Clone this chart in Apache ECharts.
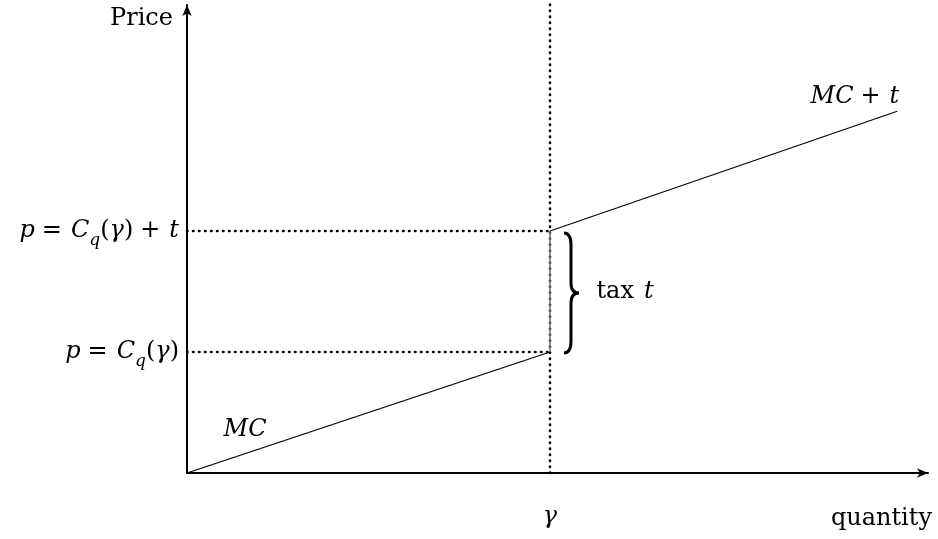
<!DOCTYPE html>
<html>
<head>
<meta charset="utf-8">
<script src="https://cdn.jsdelivr.net/npm/echarts@6/dist/echarts.min.js"></script>
<style>html,body{margin:0;padding:0;background:#fff}#c{width:938px;height:539px}</style>
</head>
<body>
<div id="c"></div>
<script>
// ---- data ----
const gamma = 3;                       // quantity gamma
const priceLow = 1;                    // p = C_q(gamma)
const priceHigh = 2;                   // p = C_q(gamma) + t
const mcLine = [[0, 0], [3, 1]];       // MC
const mcTaxLine = [[3, 2], [5.87, 2.99]]; // MC + t
const taxJump = [[3, 1], [3, 2]];
const gammaGuide = [[3, 0], [3, 3.91]];
const lowGuide = [[0, 1], [3, 1]];
const highGuide = [[0, 2], [3, 2]];
const yTickLabels = {1: '{i|p}{op|=}{i|C}{s|q}{n|(}{i|γ}{n|)}', 2: '{i|p}{op|=}{i|C}{s|q}{n|(}{i|γ}{n|)}{op|+}{i|t}'};
const xTickLabels = {3: '{i|γ}'};
const annotations = [
  {value: [0.48, 0.355], text: '{i|MC}'},
  {value: [5.52, 3.107], text: '{i|MC}{op|+}{i|t}'},
  {value: [3.62, 1.5], text: '{tx|tax}{i|t}'}
];

const FONT = 'DejaVu Serif';
const rich = {
  i: {fontFamily: FONT, fontStyle: 'italic', fontSize: 24, color: '#000', lineHeight: 32},
  n: {fontFamily: FONT, fontSize: 24, color: '#000', lineHeight: 32},
  tx: {fontFamily: FONT, fontSize: 24, color: '#000', lineHeight: 32, padding: [0, 10, 0, 0]},
  op: {fontFamily: FONT, fontSize: 24, color: '#000', lineHeight: 32, padding: [0, 9, 0, 7]},
  s: {fontFamily: FONT, fontStyle: 'italic', fontSize: 17, color: '#000', lineHeight: 37, verticalAlign: 'bottom'}
};
const dotted = {color: '#000', width: 2.6, type: [0.5, 5.5], cap: 'round'};

const chart = echarts.init(document.getElementById('c'), null, {renderer: 'canvas'});
chart.setOption({
  animation: false,
  backgroundColor: '#fff',
  grid: {left: 187, right: 10, top: 5, bottom: 66, containLabel: false},
  xAxis: {
    type: 'value', min: 0, max: 6.124, interval: 3,
    name: 'quantity', nameLocation: 'end', nameGap: 4,
    nameTextStyle: {fontFamily: FONT, fontSize: 24, color: '#000', align: 'right', verticalAlign: 'top', padding: [34, 0, 0, 0]},
    axisLine: {show: true, symbol: ['none', 'arrow'], symbolSize: [7, 11], lineStyle: {color: '#000', width: 2}},
    axisTick: {show: false},
    splitLine: {show: false},
    axisLabel: {margin: 28, formatter: v => xTickLabels[v] || '', rich: rich}
  },
  yAxis: {
    type: 'value', min: 0, max: 3.868, interval: 1,
    name: 'Price', nameLocation: 'end', nameGap: 0,
    nameTextStyle: {fontFamily: FONT, fontSize: 24, color: '#000', align: 'right', verticalAlign: 'top', padding: [2, 14, 0, 0]},
    axisLine: {show: true, symbol: ['none', 'arrow'], symbolSize: [7, 11], lineStyle: {color: '#000', width: 2}},
    axisTick: {show: false},
    splitLine: {show: false},
    axisLabel: {margin: 8, formatter: v => yTickLabels[v] || '', rich: rich}
  },
  series: [
    {type: 'line', data: gammaGuide, symbol: 'none', clip: false, lineStyle: dotted, z: 1},
    {type: 'line', data: lowGuide, symbol: 'none', lineStyle: dotted, z: 1},
    {type: 'line', data: highGuide, symbol: 'none', lineStyle: dotted, z: 1},
    {type: 'line', data: mcLine, symbol: 'none', lineStyle: {color: '#000', width: 1.1}, z: 3},
    {type: 'line', data: mcTaxLine, symbol: 'none', lineStyle: {color: '#000', width: 1.1}, z: 3},
    {type: 'line', data: taxJump, symbol: 'none', lineStyle: {color: '#777', width: 1.6}, z: 2},
    {
      type: 'custom', z: 4, clip: false,
      data: [[gamma, priceLow, priceHigh]],
      renderItem: function (params, api) {
        const lo = api.coord([api.value(0), api.value(1)]);
        const hi = api.coord([api.value(0), api.value(2)]);
        const x0 = lo[0] + 14, ty = hi[1] + 2, by = lo[1] + 1, mid = (ty + by) / 2;
        const r = 7, tip = 15;
        const d = 'M' + x0 + ',' + ty +
          ' Q' + (x0 + r) + ',' + ty + ' ' + (x0 + r) + ',' + (ty + 12) +
          ' L' + (x0 + r) + ',' + (mid - 10) +
          ' Q' + (x0 + r) + ',' + mid + ' ' + (x0 + tip) + ',' + mid +
          ' Q' + (x0 + r) + ',' + mid + ' ' + (x0 + r) + ',' + (mid + 10) +
          ' L' + (x0 + r) + ',' + (by - 12) +
          ' Q' + (x0 + r) + ',' + by + ' ' + x0 + ',' + by;
        return {type: 'path', shape: {pathData: d}, style: {stroke: '#000', fill: 'none', lineWidth: 3}};
      }
    },
    {
      type: 'scatter', symbolSize: 0, clip: false, z: 5,
      itemStyle: {opacity: 1},
      data: annotations.map(a => ({value: a.value, label: {formatter: a.text}})),
      label: {show: true, position: 'inside', color: '#000', opacity: 1, textBorderWidth: 0, rich: rich},
      emphasis: {disabled: true}
    }
  ]
});
</script>
</body>
</html>
